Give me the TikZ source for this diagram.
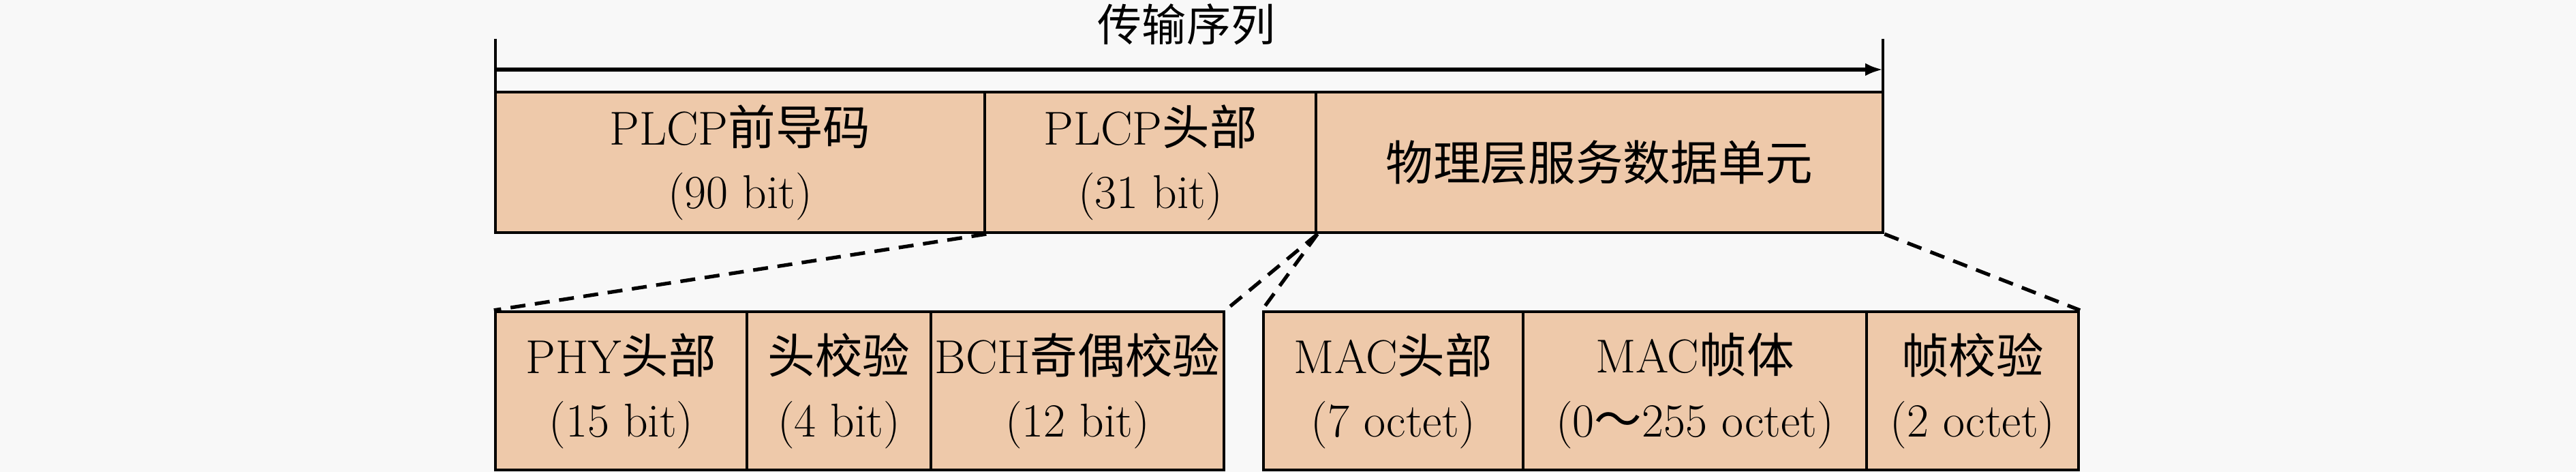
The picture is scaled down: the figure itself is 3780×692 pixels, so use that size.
\documentclass[tikz,border=0pt]{standalone}
\usepackage{fontspec}
\newfontfamily\cjk{Noto Sans CJK SC}
\usetikzlibrary{arrows.meta}
\definecolor{boxfill}{RGB}{238,201,170}
\definecolor{bgc}{RGB}{248,248,248}
\tikzset{
  fld/.style={draw=black, line width=1.2pt, fill=boxfill, rectangle, inner sep=0pt, align=center, font=\fontsize{19.8}{26.5}\selectfont},
  zoomline/.style={draw=black, line width=1.5pt, dash pattern=on 2.2mm off 1.4mm},
}
\begin{document}
\begin{tikzpicture}[x=0.01cm,y=-0.01cm]
\fill[bgc] (0,0) rectangle (3780,692);
\useasboundingbox (0,0) rectangle (3780,692);
% title and arrow
\node[font=\fontsize{18.5}{24}\selectfont] (title) at (1741,36) {\cjk 传输序列};
\coordinate (tl) at (727,57);
\coordinate (tr) at (2763,57);
\coordinate (bl) at (727,135);
\coordinate (br) at (2763,135);
\draw[line width=0.9pt] (tl) -- (bl);
\draw[line width=0.9pt] (tr) -- (br);
\coordinate (al) at (727,102);
\coordinate (ar) at (2763,102);
\draw[line width=1.6pt, -{Latex[length=2.6mm,width=1.9mm]}] (al) -- (ar);
% top row
\node[fld, minimum width=7.18cm, minimum height=2.06cm] (A) at (1086,238) {PLCP{\cjk 前导码}\\(90 bit)};
\node[fld, minimum width=4.86cm, minimum height=2.06cm] (B) at (1688,238) {PLCP{\cjk 头部}\\(31 bit)};
\node[fld, minimum width=8.32cm, minimum height=2.06cm] (C) at (2347,238) {\cjk 物理层服务数据单元};
% bottom row left
\node[fld, minimum width=3.69cm, minimum height=2.32cm] (D) at (911.5,573) {PHY{\cjk 头部}\\(15 bit)};
\node[fld, minimum width=2.70cm, minimum height=2.32cm] (E) at (1231,573) {{\cjk 头校验}\\(4 bit)};
\node[fld, minimum width=4.30cm, minimum height=2.32cm] (F) at (1581,573) {BCH{\cjk 奇偶校验}\\(12 bit)};
% bottom row right
\node[fld, minimum width=3.81cm, minimum height=2.32cm] (G) at (2044.5,573) {MAC{\cjk 头部}\\(7 octet)};
\node[fld, minimum width=5.04cm, minimum height=2.32cm] (H) at (2487,573) {MAC{\cjk 帧体}\\(0{\cjk ～}255 octet)};
\node[fld, minimum width=3.11cm, minimum height=2.32cm] (I) at (2894.5,573) {{\cjk 帧校验}\\(2 octet)};
% zoom lines
\draw[zoomline] (A.south east) -- (D.north west);
\draw[zoomline] (B.south east) -- (F.north east);
\draw[zoomline] (B.south east) -- (G.north west);
\draw[zoomline] (C.south east) -- (I.north east);
\end{tikzpicture}
\end{document}
